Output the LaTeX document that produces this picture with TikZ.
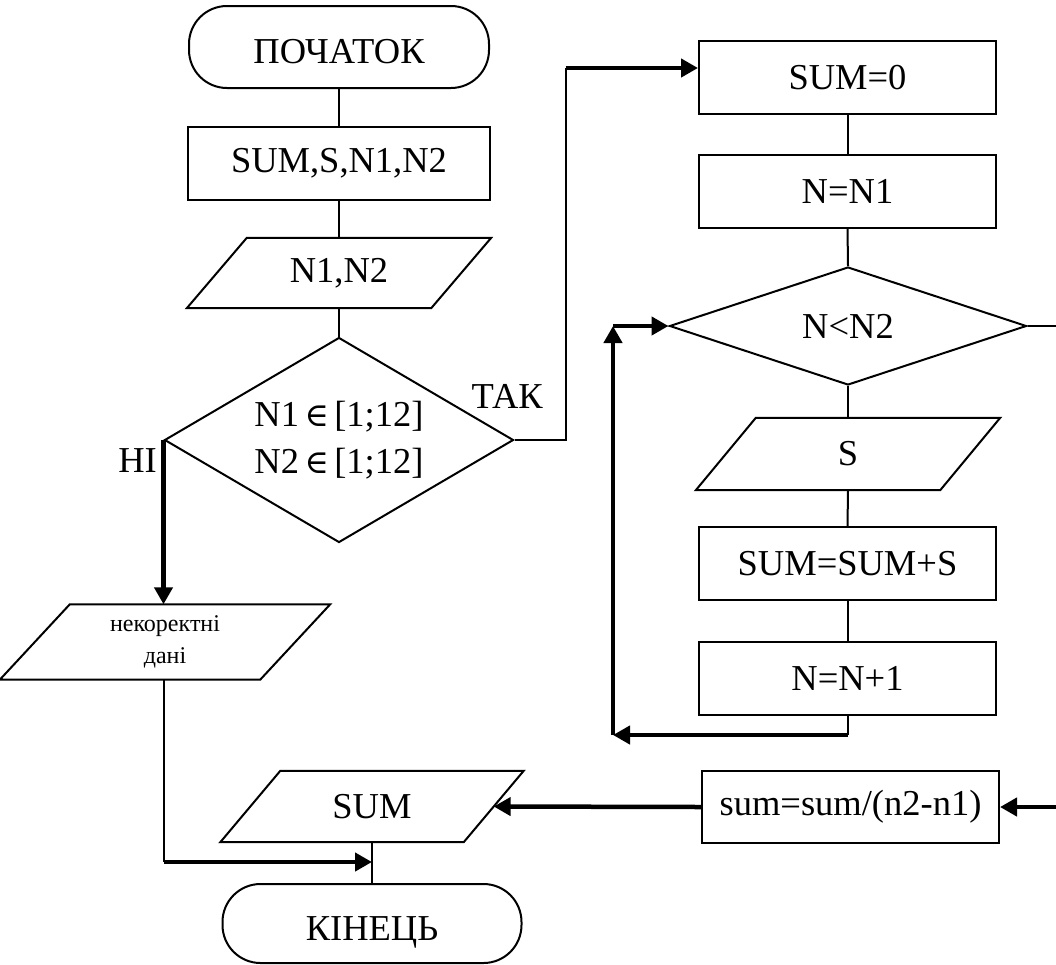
\documentclass[tikz,border=0pt]{standalone}
\usepackage{fontspec}
\setmainfont{Liberation Serif}
\newfontfamily\symfnt[Scale=0.9]{DejaVu Serif}
\usetikzlibrary{shapes.geometric,arrows.meta}
\begin{document}
\begin{tikzpicture}[x=1pt,y=-1pt,
  thinline/.style={line width=2pt},
  thickline/.style={line width=4.5pt},
  arr/.style={thickline,-{Triangle[length=17pt,width=18pt]}},
  txt/.style={font=\fontsize{36.5}{47}\selectfont},
  proc/.style={txt,draw,thinline,rectangle,inner sep=0pt,minimum width=297pt,minimum height=73pt},
  term/.style={txt,draw,thinline,rectangle,rounded corners=38pt,inner sep=0pt,minimum width=300pt,minimum height=#1},
  dec/.style n args={3}{txt,draw,thinline,diamond,inner sep=0pt,align=center,shape aspect=#3,minimum width=#1,minimum height=#2},
  io/.style n args={3}{txt,rectangle,inner sep=0pt,minimum width=#1,minimum height=#2,
    append after command={\pgfextra{\draw[thinline]
      ([xshift=#3]\tikzlastnode.north west) -- ([xshift=#3]\tikzlastnode.north east) --
      ([xshift=-#3]\tikzlastnode.south east) -- ([xshift=-#3]\tikzlastnode.south west) -- cycle;}}},
  lbl/.style={txt,inner sep=0pt}
]
\useasboundingbox (0,0) rectangle (1056,964);
\fill[white] (0,0) rectangle (1056,964);

% left column
\node[term=82pt] (start) at (339,47) {\raisebox{-16pt}[0pt][0pt]{ПОЧАТОК}};
\node[proc,minimum width=302pt] (decl) at (339,163.5) {SUM,S,N1,N2};
\node[io={244pt}{70pt}{30pt}] (in1) at (339,273) {N1,N2};
\node[dec={349pt}{205pt}{1.7}] (dec1) at (339,440) {N1{\symfnt\,∈\,}[1;12]\\N2{\symfnt\,∈\,}[1;12]};
\node[io={260pt}{75pt}{35pt},font=\fontsize{24}{32}\selectfont,align=center] (err) at (165,642) {некоректні\\дані};
\node[io={243pt}{71pt}{30pt}] (out) at (372,806.5) {SUM};
\node[term=79pt,minimum width=299pt] (end) at (372,923.5) {\raisebox{-16.5pt}[0pt][0pt]{КІНЕЦЬ}};

\node[lbl,anchor=base east] (tak) at (543,408) {ТАК};
\node[lbl,anchor=base east] (ni) at (157,472) {НІ};

% right column
\node[proc] (s0) at (847.5,77.5) {SUM=0};
\node[proc] (n1) at (847.5,191) {N=N1};
\node[dec={357pt}{118pt}{3}] (dec2) at (848,326) {N<N2};
\node[io={244pt}{72pt}{30pt}] (ins) at (848,454) {S};
\node[proc] (add) at (847.5,563.5) {SUM=SUM+S};
\node[proc] (inc) at (847.5,678.5) {N=N+1};
\node[proc,minimum width=297pt,minimum height=72pt] (avg) at (850.5,807) {sum=sum/(n2-n1)};

\coordinate (s0in) at ([yshift=9.5pt]s0.west);
\coordinate (lp) at (613,735);
\coordinate (j) at (372,862);

% left connectors
\draw[thinline] (start.south) -- (decl.north);
\draw[thinline] (decl.south) -- (in1.north);
\draw[thinline] (in1.south) -- (dec1.north);
\draw[thinline] (dec1.east) -- ++(51,0) coordinate (k1) -- (k1 |- s0in);
\draw[arr] (k1 |- s0in) -- (s0in);
\draw[arr] (dec1.west) -- (dec1.west |- err.north);
\draw[thinline] (err.south -| dec1.west) -- (dec1.west |- j);
\draw[arr] (dec1.west |- j) -- (j);
\draw[thinline] (out.south) -- (end.north);

% right connectors
\draw[thinline] (s0.south) -- (n1.north);
\draw[thinline] (n1.south) -- (dec2.north);
\draw[thinline] (dec2.south) -- (ins.north);
\draw[thinline] (ins.south) -- (add.north);
\draw[thinline] (add.south) -- (inc.north);
\draw[thinline] (inc.south) -- (inc.south |- lp);
\draw[arr] (inc.south |- lp) -- (lp);
\draw[arr] (lp) -- (lp |- dec2.west);
\draw[arr] (lp |- dec2.west) -- (dec2.west);
\draw[thinline] (dec2.east) -- ++(45,0) coordinate (k3) -- (k3 |- avg.east);
\draw[arr] (k3 |- avg.east) -- (avg.east);
\draw[arr] (avg.west) -- (out.east);
\end{tikzpicture}
\end{document}
